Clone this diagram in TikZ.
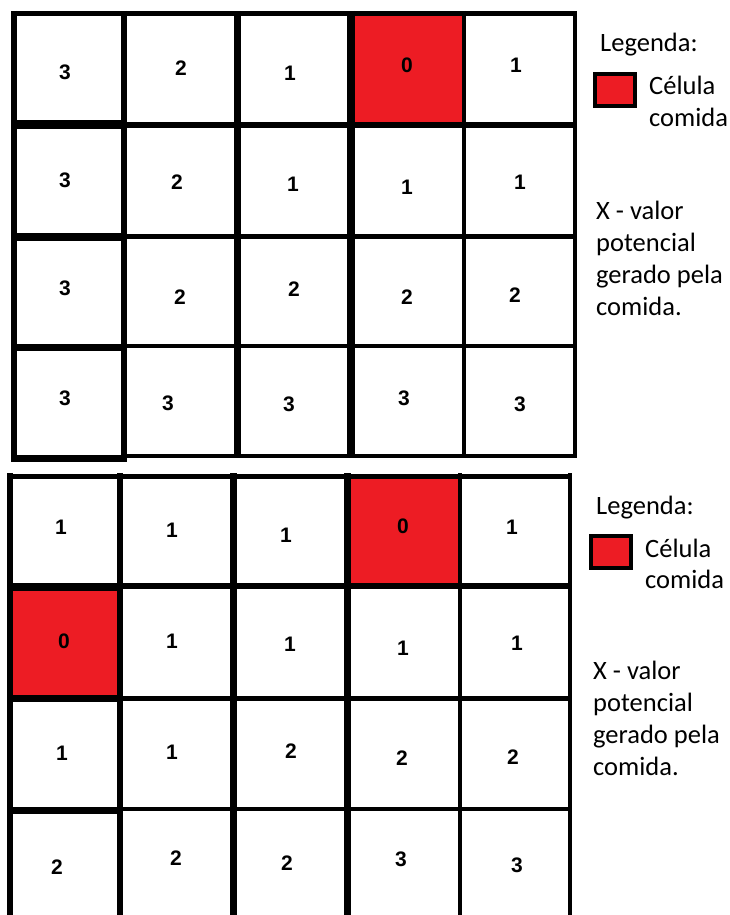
\documentclass[tikz,border=0pt]{standalone}
\usepackage{fontspec}
\setmainfont{Carlito}
\newfontfamily\digitfont{Liberation Sans}
\definecolor{paintred}{HTML}{ED1C24}
\tikzset{
  gline/.style={draw=black},
  digit/.style={inner sep=0pt, font=\digitfont\bfseries\fontsize{21}{21}\selectfont},
  legtext/.style={anchor=base west, inner sep=0pt, font=\fontsize{26.5}{32}\selectfont},
  legbox/.style={draw=black, line width=4pt, fill=paintred},
}
\begin{document}
\begin{tikzpicture}[x=1pt,y=-1pt]
\useasboundingbox (0,0) rectangle (729,915);
\fill[white] (0,0) rectangle (729,915);
% ---------- top grid ----------
\fill[paintred] (351,14) rectangle (464,125);
% verticals
\draw[gline, line width=6pt] (14,11) -- (14,461);
\draw[gline, line width=6pt] (124,11) -- (124,461);
\draw[gline, line width=7pt] (237,11) -- (237,458);
\draw[gline, line width=8pt] (351,11) -- (351,458);
\draw[gline, line width=4.5pt] (464,11) -- (464,458);
\draw[gline, line width=3.5pt] (575,11) -- (575,458);
% horizontals
\draw[gline, line width=5pt] (11,14) -- (577,14);
\draw[gline, line width=9pt] (11,125) -- (124,125);
\draw[gline, line width=6pt] (124,125) -- (577,125);
\draw[gline, line width=8pt] (11,237) -- (124,237);
\draw[gline, line width=5pt] (124,236) -- (577,236);
\draw[gline, line width=7pt] (11,347) -- (124,347);
\draw[gline, line width=4.5pt] (124,346) -- (577,346);
\draw[gline, line width=7pt] (11,458) -- (127,458);
\draw[gline, line width=4pt] (124,456) -- (577,456);
% digits
\node[digit] (a11) at (65,72) {3};
\node[digit] (a12) at (181,68) {2};
\node[digit] (a13) at (290,73) {1};
\node[digit] (a14) at (407,65) {0};
\node[digit] (a15) at (516,65) {1};
\node[digit] (a21) at (65,180) {3};
\node[digit] (a22) at (177,182) {2};
\node[digit] (a23) at (293,184) {1};
\node[digit] (a24) at (407,187) {1};
\node[digit] (a25) at (520,182) {1};
\node[digit] (a31) at (65,288) {3};
\node[digit] (a32) at (180,297) {2};
\node[digit] (a33) at (294,289) {2};
\node[digit] (a34) at (407,297) {2};
\node[digit] (a35) at (515,295) {2};
\node[digit] (a41) at (65,398) {3};
\node[digit] (a42) at (168,403) {3};
\node[digit] (a43) at (289,404) {3};
\node[digit] (a44) at (404,398) {3};
\node[digit] (a45) at (520,404) {3};
% legend
\node[legtext] (lega) at (600,52) {Legenda:};
\draw[legbox] (595,74) rectangle (635,106);
\coordinate (boxa) at (615,90);
\node[legtext] (cela) at (649,95) {Célula};
\node[legtext] (coma) at (649,127) {comida};
\node[legtext] (xa1) at (596,219) {X - valor};
\node[legtext] (xa2) at (596,251) {potencial};
\node[legtext] (xa3) at (596,283) {gerado pela};
\node[legtext] (xa4) at (596,315) {comida.};
% ---------- bottom grid ----------
\fill[paintred] (347,476) rectangle (460,586);
\fill[paintred] (10,586) rectangle (120,698);
% verticals
\draw[gline, line width=6pt] (10,473) -- (10,916);
\draw[gline, line width=6pt] (120,473) -- (120,916);
\draw[gline, line width=7pt] (233,473) -- (233,916);
\draw[gline, line width=7pt] (347,473) -- (347,916);
\draw[gline, line width=4.5pt] (460,473) -- (460,916);
\draw[gline, line width=4pt] (570,473) -- (570,916);
% horizontals
\draw[gline, line width=5pt] (7,476) -- (572,476);
\draw[gline, line width=8pt] (7,587) -- (120,587);
\draw[gline, line width=6pt] (120,586) -- (572,586);
\draw[gline, line width=7pt] (7,698) -- (120,698);
\draw[gline, line width=5pt] (120,698) -- (572,698);
\draw[gline, line width=7pt] (7,810) -- (120,810);
\draw[gline, line width=4.5pt] (120,809) -- (572,809);
% digits
\node[digit] (b11) at (61,527) {1};
\node[digit] (b12) at (172,530) {1};
\node[digit] (b13) at (286,535) {1};
\node[digit] (b14) at (403,526) {0};
\node[digit] (b15) at (512,527) {1};
\node[digit] (b21) at (64,641) {0};
\node[digit] (b22) at (172,641) {1};
\node[digit] (b23) at (290,644) {1};
\node[digit] (b24) at (403,648) {1};
\node[digit] (b25) at (517,643) {1};
\node[digit] (b31) at (62,753) {1};
\node[digit] (b32) at (172,752) {1};
\node[digit] (b33) at (291,751) {2};
\node[digit] (b34) at (402,758) {2};
\node[digit] (b35) at (513,757) {2};
\node[digit] (b41) at (57,867) {2};
\node[digit] (b42) at (176,858) {2};
\node[digit] (b43) at (287,863) {2};
\node[digit] (b44) at (401,859) {3};
\node[digit] (b45) at (517,865) {3};
% legend
\node[legtext] (legb) at (596,514) {Legenda:};
\draw[legbox] (591,536) rectangle (631,568);
\coordinate (boxb) at (611,552);
\node[legtext] (celb) at (645,557) {Célula};
\node[legtext] (comb) at (645,588) {comida};
\node[legtext] (xb1) at (593,679) {X - valor};
\node[legtext] (xb2) at (593,711) {potencial};
\node[legtext] (xb3) at (593,743) {gerado pela};
\node[legtext] (xb4) at (593,775) {comida.};
\end{tikzpicture}
\end{document}
